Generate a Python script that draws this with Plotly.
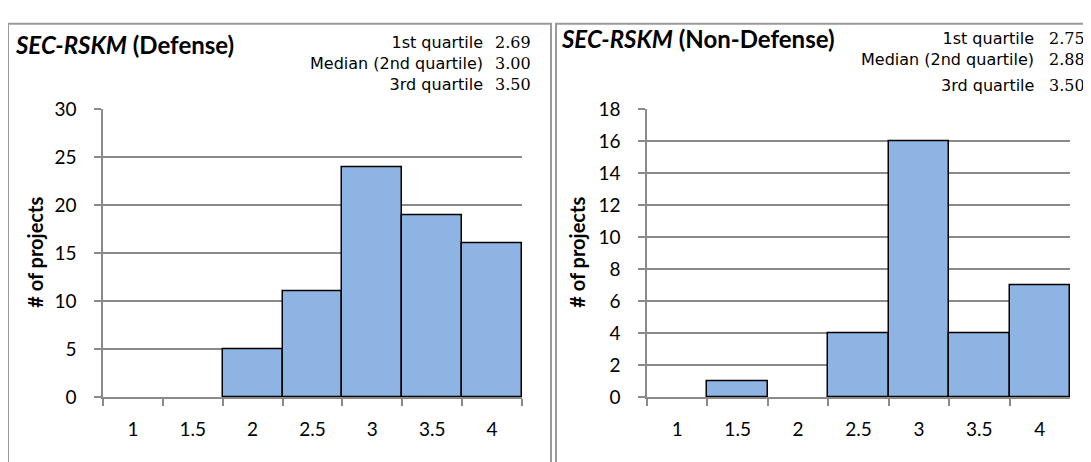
import plotly.graph_objects as go

categories = ["1", "1.5", "2", "2.5", "3", "3.5", "4"]
defense_counts = [0, 0, 5, 11, 24, 19, 16]
nondefense_counts = [0, 1, 0, 4, 16, 4, 7]
defense_quartiles = ["2.69", "3.00", "3.50"]
nondefense_quartiles = ["2.75", "2.88", "3.50"]
quartile_labels = ["1st quartile", "Median (2nd quartile)", "3rd quartile"]

W, H = 1091, 462
OFF = 8  # page body margin
SANS = "Lato, 'Open Sans', sans-serif"
QSANS = "'DejaVu Sans', sans-serif"
SERIF = "'DejaVu Serif', 'Liberation Serif', serif"
BAR = "#8EB4E3"
GRID = "#8A8A8A"
BORDER = "#9A9A9A"


def px_x(p):
    return (p - OFF) / W


def px_y(p):
    return 1 - (p - OFF) / H


def bar(values, xa, ya):
    return go.Bar(x=categories, y=values,
                  marker=dict(color=BAR, line=dict(color="black",
                                                   width=[1.5 if v > 0 else 0 for v in values])),
                  xaxis=xa, yaxis=ya, showlegend=False, hoverinfo="skip")


fig = go.Figure()
fig.add_trace(bar(defense_counts, "x", "y"))
fig.add_trace(bar(nondefense_counts, "x2", "y2"))

ydom = [px_y(405), px_y(102)]
xaxis_common = dict(type="category", tickson="boundaries", ticks="outside", ticklen=7, tickcolor=GRID,
                    tickwidth=1.5, showline=True, linecolor=GRID, linewidth=1.5, showgrid=False,
                    ticklabelstandoff=14,
                    tickfont=dict(family=SANS, size=19, color="black"))
yaxis_common = dict(ticks="outside", ticklen=7, tickcolor=GRID, tickwidth=1.5, showline=True,
                    linecolor=GRID, linewidth=1.5, showgrid=True, gridcolor=GRID, gridwidth=1.5,
                    zeroline=False, ticklabelstandoff=14,
                    tickfont=dict(family=SANS, size=19, color="black"))

fig.update_layout(
    width=W, height=H, margin=dict(l=0, r=0, t=0, b=0),
    paper_bgcolor="white", plot_bgcolor="white", bargap=0,
    xaxis=dict(domain=[px_x(103), px_x(522)], anchor="y", **xaxis_common),
    yaxis=dict(domain=ydom, anchor="x", range=[0, 30], dtick=5, **yaxis_common),
    xaxis2=dict(domain=[px_x(647), px_x(1070)], anchor="y2", **xaxis_common),
    yaxis2=dict(domain=ydom, anchor="x2", range=[0, 18], dtick=2, **yaxis_common),
)

# panel borders
fig.add_shape(type="rect", xref="paper", yref="paper", x0=px_x(8), x1=px_x(551), y0=px_y(480), y1=px_y(12),
              line=dict(color=BORDER, width=2))
fig.add_shape(type="rect", xref="paper", yref="paper", x0=px_x(556), x1=px_x(1110), y0=px_y(480), y1=px_y(12),
              line=dict(color=BORDER, width=2))

ann = []


def text(x, y, s, xanchor, font, align="left", angle=0):
    ann.append(dict(x=px_x(x), y=px_y(y), xref="paper", yref="paper", text=s, showarrow=False,
                    xanchor=xanchor, yanchor="middle", align=align, textangle=angle, font=font))


lab_font = dict(family=QSANS, size=16, color="black")
val_font = dict(family=SERIF, size=16, color="black")
title_font = dict(family=SANS, size=24, color="black")
ytitle_font = dict(family=SANS, size=20, color="black")

# Defense panel
text(13, 34, "<b><i>SEC-RSKM</i> (Defense)</b>", "left", title_font)
text(35, 253, "<b># of projects</b>", "center", ytitle_font, angle=-90)
text(485, 54, "<br>".join(quartile_labels), "right", lab_font, align="right")
text(493, 54, "<br>".join(defense_quartiles), "left", val_font)

# Non-Defense panel
text(559, 27, "<b><i>SEC-RSKM</i> (Non-Defense)</b>", "left", title_font)
text(577, 253, "<b># of projects</b>", "center", ytitle_font, angle=-90)
text(1036, 39, "<br>".join(quartile_labels[:2]), "right", lab_font, align="right")
text(1047, 39, "<br>".join(nondefense_quartiles[:2]), "left", val_font)
text(1036, 77, quartile_labels[2], "right", lab_font, align="right")
text(1047, 77, nondefense_quartiles[2], "left", val_font)

fig.update_layout(annotations=ann)

fig.write_html("out.html")
